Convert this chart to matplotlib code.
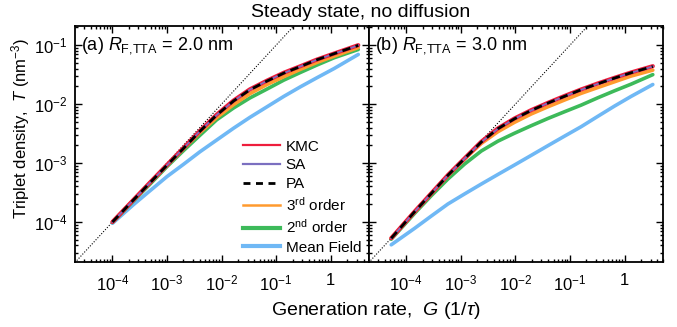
import numpy as np
import matplotlib
matplotlib.use("Agg")
import matplotlib.pyplot as plt
from matplotlib.ticker import FixedLocator, LogLocator, NullFormatter
from matplotlib.lines import Line2D

plt.rcParams['font.family'] = ['Liberation Sans', 'DejaVu Sans']
plt.rcParams['mathtext.fontset'] = 'custom'
plt.rcParams['mathtext.rm'] = 'Liberation Sans'
plt.rcParams['mathtext.it'] = 'Liberation Sans:italic'
plt.rcParams['mathtext.default'] = 'regular'

# ---- data ----
# panel (a): R_F,TTA = 2.0 nm
G_a = [1e-4, 2.4e-4, 4.9e-4, 1e-3, 2e-3, 4e-3, 8.1e-3, 1.66e-2, 3.3e-2, 6.8e-2,
       0.138, 0.28, 0.56, 1.15, 3.2]
kmc_a = [1.0e-4, 2.35e-4, 4.7e-4, 9.3e-4, 1.8e-3, 3.5e-3, 6.6e-3, 1.15e-2, 1.78e-2,
         2.5e-2, 3.4e-2, 4.4e-2, 5.7e-2, 7.2e-2, 1.0e-1]
sa_a = [1.0e-4, 2.34e-4, 4.66e-4, 9.2e-4, 1.78e-3, 3.46e-3, 6.5e-3, 1.13e-2, 1.76e-2,
        2.47e-2, 3.36e-2, 4.36e-2, 5.66e-2, 7.15e-2, 9.9e-2]
pa_a = [1.0e-4, 2.34e-4, 4.65e-4, 9.2e-4, 1.77e-3, 3.45e-3, 6.5e-3, 1.13e-2, 1.75e-2,
        2.46e-2, 3.35e-2, 4.35e-2, 5.65e-2, 7.15e-2, 9.9e-2]
third_a = [1.0e-4, 2.34e-4, 4.65e-4, 9.2e-4, 1.75e-3, 3.3e-3, 5.9e-3, 9.8e-3, 1.5e-2,
           2.15e-2, 2.92e-2, 3.9e-2, 5.1e-2, 6.5e-2, 9.1e-2]
second_a = [9.8e-5, 2.25e-4, 4.4e-4, 8.7e-4, 1.62e-3, 2.95e-3, 5.4e-3, 8.6e-3, 1.27e-2,
            1.8e-2, 2.55e-2, 3.45e-2, 4.6e-2, 6.1e-2, 8.45e-2]
mf_a = [9.5e-5, 1.95e-4, 3.4e-4, 5.9e-4, 9.5e-4, 1.55e-3, 2.45e-3, 3.9e-3, 5.95e-3,
        9.0e-3, 1.35e-2, 1.97e-2, 2.8e-2, 4.0e-2, 6.95e-2]

# panel (b): R_F,TTA = 3.0 nm
G_b = [5.3e-5, 1.42e-4, 2.87e-4, 5.8e-4, 1.17e-3, 2.37e-3, 4.78e-3, 9.6e-3, 1.95e-2,
       3.94e-2, 7.9e-2, 0.16, 0.324, 0.655, 1.32, 3.3]
kmc_b = [5.3e-5, 1.5e-4, 3.06e-4, 6.26e-4, 1.2e-3, 2.3e-3, 3.87e-3, 5.7e-3, 7.9e-3,
         1.05e-2, 1.37e-2, 1.77e-2, 2.24e-2, 2.79e-2, 3.44e-2, 4.4e-2]
sa_b = [5.3e-5, 1.49e-4, 3.04e-4, 6.2e-4, 1.19e-3, 2.27e-3, 3.82e-3, 5.62e-3, 7.8e-3,
        1.04e-2, 1.35e-2, 1.75e-2, 2.21e-2, 2.76e-2, 3.4e-2, 4.35e-2]
pa_b = [5.3e-5, 1.49e-4, 3.04e-4, 6.2e-4, 1.19e-3, 2.27e-3, 3.82e-3, 5.62e-3, 7.8e-3,
        1.04e-2, 1.35e-2, 1.75e-2, 2.21e-2, 2.76e-2, 3.4e-2, 4.35e-2]
third_b = [5.3e-5, 1.48e-4, 3.02e-4, 6.17e-4, 1.17e-3, 2.15e-3, 3.4e-3, 4.9e-3, 6.8e-3,
           9.0e-3, 1.17e-2, 1.52e-2, 1.91e-2, 2.39e-2, 2.99e-2, 3.77e-2]
second_b = [5.1e-5, 1.4e-4, 2.79e-4, 5.36e-4, 9.6e-4, 1.6e-3, 2.35e-3, 3.2e-3, 4.3e-3,
            5.7e-3, 7.4e-3, 9.6e-3, 1.28e-2, 1.68e-2, 2.18e-2, 3.16e-2]
mf_b = [4.1e-5, 7.8e-5, 1.26e-4, 2.02e-4, 2.99e-4, 4.4e-4, 6.4e-4, 9.25e-4, 1.35e-3,
        1.97e-3, 2.85e-3, 4.13e-3, 6.2e-3, 9.25e-3, 1.35e-2, 2.15e-2]

# T = G reference line
G_ref = [1e-5, 10]

panel_labels = ['(a) $\\it{R}_{\\rm F{,}TTA}$ = 2.0 nm', '(b) $\\it{R}_{\\rm F{,}TTA}$ = 3.0 nm']
xtick_vals = [1e-4, 1e-3, 1e-2, 1e-1, 1]
xtick_labels = ['$10^{-4}$', '$10^{-3}$', '$10^{-2}$', '$10^{-1}$', '1']
ytick_vals = [1e-4, 1e-3, 1e-2, 1e-1]
ytick_labels = ['$10^{-4}$', '$10^{-3}$', '$10^{-2}$', '$10^{-1}$']
legend_labels = ['KMC', 'SA', 'PA', '3$^{rd}$ order', '2$^{nd}$ order', 'Mean Field']

c_kmc = '#ee1d3c'
c_sa = '#7b6fc0'
c_third = '#ff9a2e'
c_second = '#3dba5a'
c_mf = '#6fb8f5'

fig = plt.figure(figsize=(6.77, 3.27), dpi=100)
ax1 = fig.add_axes([0.1115, 0.199, 0.434, 0.721])
ax2 = fig.add_axes([0.5455, 0.199, 0.434, 0.721])

panels = [
    (ax1, G_a, kmc_a, sa_a, pa_a, third_a, second_a, mf_a),
    (ax2, G_b, kmc_b, sa_b, pa_b, third_b, second_b, mf_b),
]

for i, (ax, G, kmc, sa, pa, third, second, mf) in enumerate(panels):
    ax.plot(G_ref, G_ref, ls=(0, (1, 1.5)), color='black', lw=0.8)
    ax.plot(G, mf, color=c_mf, lw=2.6, solid_capstyle='round')
    ax.plot(G, second, color=c_second, lw=2.6, solid_capstyle='round')
    ax.plot(G, third, color=c_third, lw=2.6, solid_capstyle='round')
    ax.plot(G, kmc, color=c_kmc, lw=3, solid_capstyle='round')
    ax.plot(G, sa, color=c_sa, lw=1.2)
    ax.plot(G, pa, color='black', lw=2, dashes=(3, 2))

    ax.set_xscale('log')
    ax.set_yscale('log')
    ax.set_xlim(2.1e-5, 5.1)
    ax.set_ylim(2.1e-5, 0.21)
    ax.xaxis.set_major_locator(FixedLocator(xtick_vals))
    ax.set_xticklabels(xtick_labels)
    ax.yaxis.set_major_locator(FixedLocator(ytick_vals))
    ax.set_yticklabels(ytick_labels)
    ax.xaxis.set_minor_locator(LogLocator(base=10, subs=np.arange(2, 10), numticks=20))
    ax.yaxis.set_minor_locator(LogLocator(base=10, subs=np.arange(2, 10), numticks=20))
    ax.xaxis.set_minor_formatter(NullFormatter())
    ax.yaxis.set_minor_formatter(NullFormatter())
    ax.tick_params(which='both', direction='in', top=True, right=True, labelsize=12, width=1)
    ax.tick_params(which='major', length=5)
    ax.tick_params(which='minor', length=2.5)
    ax.tick_params(axis='x', which='major', pad=8)
    ax.tick_params(axis='y', which='major', pad=6)
    for s in ax.spines.values():
        s.set_linewidth(1.3)
    ax.text(0.02, 0.96, panel_labels[i], transform=ax.transAxes, fontsize=13,
            ha='left', va='top')

ax2.tick_params(labelleft=False)
ax1.set_ylabel('Triplet density,  $\\it{T}$ (nm$^{-3}$)', fontsize=12)
ax1.yaxis.set_label_coords(-0.148, 0.566)

handles = [
    Line2D([], [], color=c_kmc, lw=1.6),
    Line2D([], [], color=c_sa, lw=1.6),
    Line2D([], [], color='black', lw=2, dashes=(2.5, 2)),
    Line2D([], [], color=c_third, lw=1.8),
    Line2D([], [], color=c_second, lw=3),
    Line2D([], [], color=c_mf, lw=3),
]
ax1.legend(handles, legend_labels, loc='upper left', bbox_to_anchor=(0.57, 0.518),
           frameon=False, fontsize=11, handlelength=2.4, handletextpad=0.4,
           labelspacing=0.3, borderpad=0, borderaxespad=0)

fig.text(0.555, 0.05, 'Generation rate,  $\\it{G}$ (1/$\\it{\\tau}$)', ha='center',
         va='center', fontsize=14)
fig.text(0.532, 0.962, 'Steady state, no diffusion', ha='center', va='center', fontsize=14)

fig.savefig('out.png', dpi=100)
